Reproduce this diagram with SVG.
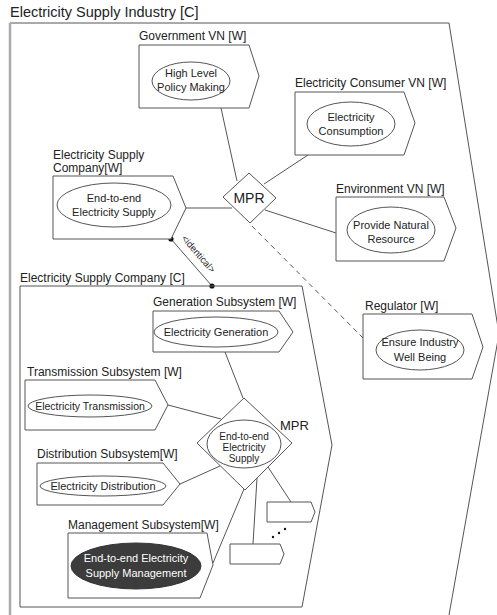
<svg xmlns="http://www.w3.org/2000/svg" width="497" height="615" viewBox="0 0 497 615">
<style>
text{font-family:"Liberation Sans",Arial,sans-serif;fill:#222}
.t{font-size:14.5px}
.l{font-size:12px}
.e{font-size:11px;text-anchor:middle}
.m{font-size:10px;text-anchor:middle}
.s{fill:#fff;stroke:#555;stroke-width:1}
.c{fill:none;stroke:#555;stroke-width:1}
.d{fill:none;stroke:#555;stroke-width:1;stroke-dasharray:5,4}
</style>
<rect width="497" height="615" fill="#fff"/>
<g id="industry">
<path class="c" d="M10,23 L449,23 L499,334 L449,615"/>
<line x1="10" y1="23" x2="10" y2="615" stroke="#aaa" stroke-width="2.5"/>
<text class="t" x="10" y="17">Electricity Supply Industry [C]</text>
</g>
<g id="connectors">
<line class="c" x1="221" y1="108" x2="237" y2="181"/>
<line class="c" x1="264" y1="184" x2="308" y2="155"/>
<line class="c" x1="265" y1="210" x2="336" y2="233"/>
<line class="c" x1="186" y1="208" x2="232" y2="208"/>
<line class="d" x1="252" y1="226" x2="363" y2="338"/>
<line class="c" x1="171" y1="239" x2="212" y2="286"/>
<circle cx="171" cy="239" r="2.6" fill="#111"/>
<circle cx="212" cy="286" r="2.6" fill="#111"/>
<text x="0" y="0" font-size="9.5" text-anchor="middle" transform="translate(196,256) rotate(49)">&lt;identical&gt;</text>
<line class="c" x1="225" y1="352" x2="243" y2="398"/>
<line class="c" x1="168" y1="405" x2="221" y2="419"/>
<line class="c" x1="180" y1="484" x2="220" y2="466"/>
<line class="c" x1="244" y1="489" x2="213" y2="563"/>
<line class="c" x1="268" y1="467" x2="291" y2="502"/>
<line class="c" x1="257" y1="478" x2="253" y2="544"/>
<circle cx="273" cy="537" r="1.2" fill="#111"/>
<circle cx="279" cy="533" r="1.2" fill="#111"/>
<circle cx="285" cy="529" r="1.2" fill="#111"/>
</g>
<g id="government">
<text class="l" x="139" y="40">Government VN [W]</text>
<path class="s" d="M139,45 L249,45 L259,76 L249,108 L139,108 Z"/>
<ellipse class="s" cx="191" cy="81" rx="39" ry="19"/>
<text class="e" x="191" y="77">High Level</text>
<text class="e" x="191" y="91">Policy Making</text>
</g>
<g id="consumer">
<text class="l" x="295" y="87">Electricity Consumer VN [W]</text>
<path class="s" d="M295,92 L404,92 L415,123 L404,155 L295,155 Z"/>
<ellipse class="s" cx="351" cy="124" rx="44" ry="22"/>
<text class="e" x="351" y="121">Electricity</text>
<text class="e" x="351" y="135">Consumption</text>
</g>
<g id="environment">
<text class="l" x="336" y="193">Environment VN [W]</text>
<path class="s" d="M336,197 L444,197 L456,228 L444,261 L336,261 Z"/>
<ellipse class="s" cx="391" cy="230" rx="44" ry="23"/>
<text class="e" x="391" y="229">Provide Natural</text>
<text class="e" x="391" y="243">Resource</text>
</g>
<g id="esc-w">
<text class="l" x="53" y="159">Electricity Supply</text>
<text class="l" x="53" y="172">Company[W]</text>
<path class="s" d="M53,176 L173,176 L186,208 L171,239 L53,239 Z"/>
<ellipse class="s" cx="114" cy="205" rx="57" ry="22"/>
<text class="e" x="114" y="202">End-to-end</text>
<text class="e" x="114" y="216">Electricity Supply</text>
</g>
<g id="mpr-top">
<path class="s" d="M249,173 L276,198 L250,223 L223,197 Z"/>
<text x="249" y="203" font-size="14" text-anchor="middle">MPR</text>
</g>
<g id="regulator">
<text class="l" x="365" y="310">Regulator [W]</text>
<path class="s" d="M363,314 L472,314 L483,347 L472,379 L363,379 Z"/>
<ellipse class="s" cx="420" cy="350" rx="44" ry="20"/>
<text class="e" x="420" y="346">Ensure Industry</text>
<text class="e" x="420" y="361">Well Being</text>
</g>
<g id="esc-c">
<text class="l" x="20" y="282">Electricity Supply Company [C]</text>
<path class="c" d="M20,286 L302,286 L332,445 L302,607 L20,607 Z"/>
</g>
<g id="generation">
<text class="l" x="153" y="306">Generation Subsystem [W]</text>
<path class="s" d="M153,311 L279,311 L293,332 L279,352 L153,352 Z"/>
<ellipse class="s" cx="216" cy="332" rx="62" ry="15"/>
<text class="e" x="216" y="336">Electricity Generation</text>
</g>
<g id="transmission">
<text class="l" x="27" y="376">Transmission Subsystem [W]</text>
<path class="s" d="M25,380 L155,380 L168,405 L155,430 L25,430 Z"/>
<ellipse class="s" cx="90" cy="406" rx="62" ry="11"/>
<text x="90" y="410" font-size="10.5" text-anchor="middle">Electricity Transmission</text>
</g>
<g id="distribution">
<text class="l" x="37" y="458">Distribution Subsystem[W]</text>
<path class="s" d="M37,463 L163,463 L180,484 L163,505 L37,505 Z"/>
<ellipse class="s" cx="103" cy="486" rx="63" ry="10"/>
<text class="e" x="103" y="490">Electricity Distribution</text>
</g>
<g id="management">
<text class="l" x="68" y="529">Management Subsystem[W]</text>
<path class="s" d="M68,533 L207,533 L213,565 L200,598 L68,598 Z"/>
<ellipse cx="136" cy="566" rx="65" ry="23" fill="#3c3c3c" stroke="#333"/>
<text class="e" x="136" y="562" style="fill:#fff">End-to-end Electricity</text>
<text class="e" x="136" y="577" style="fill:#fff">Supply Management</text>
</g>
<g id="mpr-bottom">
<path class="s" d="M244,398 L292,443 L245,490 L197,443 Z"/>
<ellipse class="s" cx="244" cy="444" rx="37" ry="24"/>
<text class="m" x="244" y="440">End-to-end</text>
<text class="m" x="244" y="451">Electricity</text>
<text class="m" x="244" y="462">Supply</text>
<text x="280" y="430" font-size="13">MPR</text>
</g>
<g id="sub-a">
<path class="s" d="M267,502 L311,502 L315,512 L311,522 L267,522 Z"/>
</g>
<g id="sub-b">
<path class="s" d="M230,544 L280,544 L284,554 L280,564 L230,564 Z"/>
</g>
</svg>
